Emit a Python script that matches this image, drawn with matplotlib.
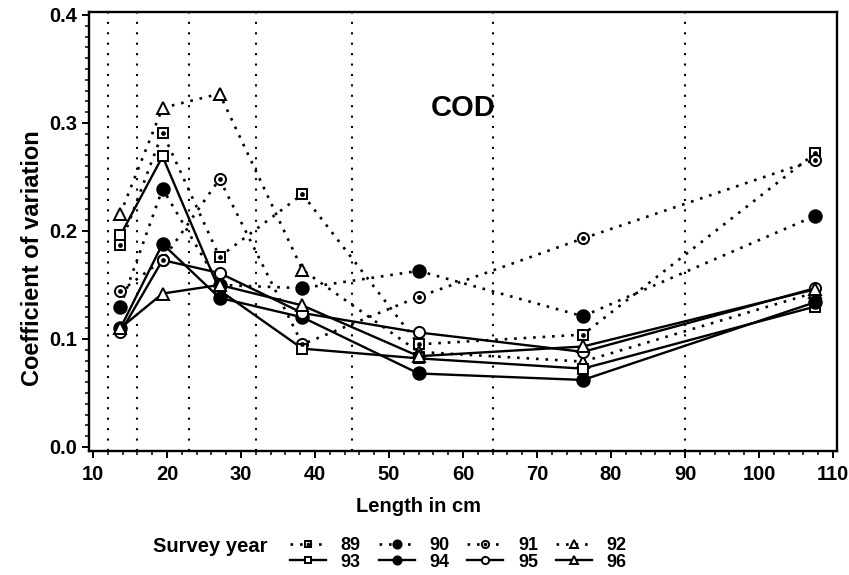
import matplotlib
matplotlib.use("Agg")
import matplotlib.pyplot as plt
from matplotlib.ticker import MultipleLocator, FormatStrFormatter
from matplotlib.legend_handler import HandlerTuple

plt.rcParams['font.family'] = ['Liberation Sans', 'DejaVu Sans']
plt.rcParams['font.weight'] = 'bold'

# ---- data ----
lengths = [13.7, 19.4, 27.1, 38.3, 54.0, 76.2, 107.6]
class_bounds = [12, 16, 23, 32, 45, 64, 90]
years = ['89', '90', '91', '92', '93', '94', '95', '96']
cv_89 = [0.187, 0.291, 0.176, 0.234, 0.095, 0.104, 0.272]
cv_90 = [0.130, 0.239, 0.150, 0.147, 0.163, 0.121, 0.214]
cv_91 = [0.144, 0.173, 0.248, 0.095, 0.139, 0.193, 0.266]
cv_92 = [0.216, 0.314, 0.327, 0.164, 0.088, 0.079, 0.143]
cv_93 = [0.196, 0.269, 0.145, 0.091, 0.082, 0.0725, 0.130]
cv_94 = [0.110, 0.188, 0.138, 0.120, 0.068, 0.062, 0.134]
cv_95 = [0.106, 0.173, 0.161, 0.124, 0.106, 0.088, 0.147]
cv_96 = [0.110, 0.142, 0.150, 0.131, 0.084, 0.093, 0.146]
x_ticks = [10, 20, 30, 40, 50, 60, 70, 80, 90, 100, 110]
y_ticks = [0.0, 0.1, 0.2, 0.3, 0.4]

series = [cv_89, cv_90, cv_91, cv_92, cv_93, cv_94, cv_95, cv_96]

dotted = (0, (1, 2.6))
styles = {
    '89': dict(ls=dotted, lw=1.9, marker='s', mfc='white', ms=7.5, dot=True),
    '90': dict(ls=dotted, lw=1.9, marker='o', mfc='black', ms=9, dot=False),
    '91': dict(ls=dotted, lw=1.9, marker='o', mfc='white', ms=8, dot=True),
    '92': dict(ls=dotted, lw=1.9, marker='^', mfc='white', ms=8, dot=False),
    '93': dict(ls='-', lw=1.7, marker='s', mfc='white', ms=7.5, dot=False),
    '94': dict(ls='-', lw=1.7, marker='o', mfc='black', ms=9, dot=False),
    '95': dict(ls='-', lw=1.7, marker='o', mfc='white', ms=8, dot=False),
    '96': dict(ls='-', lw=1.7, marker='^', mfc='white', ms=8, dot=False),
}

W, H = 849, 575
fig = plt.figure(figsize=(W / 100, H / 100), dpi=100)
ax_l, ax_r, ax_t, ax_b = 89.3, 836.7, 11.7, 450.7
ax = fig.add_axes([ax_l / W, 1 - ax_b / H, (ax_r - ax_l) / W, (ax_b - ax_t) / H])

for b in class_bounds:
    ax.axvline(b, color='black', ls=(0, (1, 4.0)), lw=1.5, zorder=1)

handles = {}
for yr, vals in zip(years, series):
    st = styles[yr]
    ln, = ax.plot(lengths, vals, color='black', ls=st['ls'], lw=st['lw'],
                  marker=st['marker'], ms=st['ms'], mfc=st['mfc'], mec='black',
                  mew=1.4, zorder=3)
    if st['dot']:
        dt, = ax.plot(lengths, vals, ls='none', marker='o', ms=2.4,
                      color='black', zorder=4)
        handles[yr] = (ln, dt)
    else:
        handles[yr] = ln

ax.set_xlim(9.5, 110.5)
ax.set_ylim(-0.0035, 0.403)
ax.set_xticks(x_ticks)
ax.set_yticks(y_ticks)
ax.xaxis.set_minor_locator(MultipleLocator(2))
ax.yaxis.set_minor_locator(MultipleLocator(0.01))
ax.yaxis.set_major_formatter(FormatStrFormatter('%.1f'))
ax.tick_params(which='major', direction='out', length=5, width=1.4,
               labelsize=14.5, pad=4)
ax.tick_params(which='minor', direction='out', length=3, width=1.1)
ax.tick_params(axis='x', pad=5)
for lab in ax.get_xticklabels() + ax.get_yticklabels():
    lab.set_fontweight('bold')
for sp in ax.spines.values():
    sp.set_linewidth(1.7)

ax.text(60.0, 0.3136, 'COD', ha='center', va='center', fontsize=21,
        fontweight='bold')

ax.set_xlabel('Length in cm', fontsize=14.5, fontweight='bold', va='center')
ax.xaxis.set_label_coords((419 - ax_l) / (ax_r - ax_l), (ax_b - 506) / (ax_b - ax_t))
ax.set_ylabel('Coefficient of variation', fontsize=17, fontweight='bold',
              va='center', ha='center')
ax.yaxis.set_label_coords((33 - ax_l) / (ax_r - ax_l), (ax_b - 258) / (ax_b - ax_t))

fig.text(153 / W, 1 - 546 / H, 'Survey year', ha='left', va='center',
         fontsize=14.5, fontweight='bold')

order = ['89', '93', '90', '94', '91', '95', '92', '96']
fig.legend([handles[k] for k in order], order, ncol=4, loc='center left',
           bbox_to_anchor=(290 / W, 1 - 554 / H), frameon=False,
           handlelength=2.0, handletextpad=0.8,
           columnspacing=1.0, labelspacing=-0.05, borderpad=0,
           borderaxespad=0, markerscale=0.65,
           handler_map={tuple: HandlerTuple(ndivide=1)},
           prop={'weight': 'bold', 'size': 13})

fig.savefig('out.png', dpi=100)
